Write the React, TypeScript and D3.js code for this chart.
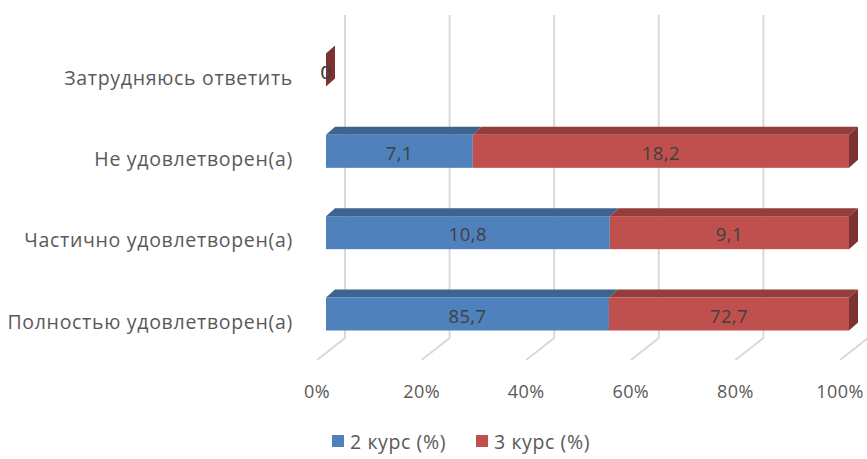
import React from "react";
import * as d3 from "d3";

// rows from top to bottom
const categories = [
  "Затрудняюсь ответить",
  "Не удовлетворен(а)",
  "Частично удовлетворен(а)",
  "Полностью удовлетворен(а)",
];
const course2 = [0, 7.1, 10.8, 85.7];
const course3 = [0, 18.2, 9.1, 72.7];
const seriesNames = ["2 курс (%)", "3 курс (%)"];
const tickValues = [0, 20, 40, 60, 80, 100];

const W = 867;
const H = 459;
const FONT = "'Open Sans', sans-serif";

const colors = [
  { front: "#4F81BD", top: "#3D6491", side: "#36577F" },
  { front: "#C0504D", top: "#943D3B", side: "#7D3231" },
];

const DX = 9; // bar depth, horizontal
const DY = 8; // bar depth, vertical
const BAR_H = 33;

const App = () => {
  const xFront = d3.scaleLinear().domain([0, 100]).range([326, 849]);
  const xBack = d3.scaleLinear().domain([0, 100]).range([345, 868]);
  const xFloor = d3.scaleLinear().domain([0, 100]).range([317, 840]);
  const yCenter = d3.scalePoint<string>().domain(categories).range([70, 314]);

  const wallTop = 15;
  const wallBottom = 338;
  const floorFront = 360;

  const rows = categories.map((c, i) => {
    const vals = [course2[i], course3[i]];
    const sum = d3.sum(vals);
    let acc = 0;
    const segs = vals.map((v, s) => {
      const p0 = sum ? (acc / sum) * 100 : 0;
      acc += v;
      const p1 = sum ? (acc / sum) * 100 : 0;
      return { v, s, p0, p1 };
    });
    return { c, segs };
  });

  const fmt = (v: number) => String(v).replace(".", ",");

  return (
    <svg
      width={W}
      height={H}
      style={{ position: "absolute", left: 0, top: 0, background: "#fff" }}
      fontFamily={FONT}
    >
      {/* back wall gridlines + floor */}
      <g stroke="#D9D9D9" strokeWidth={2} fill="none">
        {tickValues.map((t) => (
          <path
            key={t}
            d={`M${xBack(t)},${wallTop}V${wallBottom}L${xFloor(t)},${floorFront}`}
          />
        ))}
      </g>

      {/* bars */}
      {rows.map((r) => {
        const cy = yCenter(r.c) as number;
        const y0 = cy - BAR_H / 2;
        const y1 = cy + BAR_H / 2;
        const last = r.segs[r.segs.length - 1];
        const b = xFront(last.p1);
        return (
          <g key={r.c}>
            {r.segs.map((sg) => {
              const a = xFront(sg.p0);
              const e = xFront(sg.p1);
              if (e - a <= 0) return null;
              const col = colors[sg.s];
              return (
                <g key={sg.s}>
                  <path
                    d={`M${a},${y0}L${a + DX},${y0 - DY}L${e + DX},${y0 - DY}L${e},${y0}Z`}
                    fill={col.top}
                  />
                  <rect x={a} y={y0} width={e - a} height={BAR_H} fill={col.front} />
                </g>
              );
            })}
            <path
              d={`M${b},${y0}L${b + DX},${y0 - DY}L${b + DX},${y1 - DY}L${b},${y1}Z`}
              fill={colors[last.s].side}
            />
            {r.segs.map((sg) => (
              <text
                key={"l" + sg.s}
                x={(xFront(sg.p0) + xFront(sg.p1)) / 2}
                y={cy + 1}
                textAnchor="middle"
                dominantBaseline="central"
                fontSize={18.5}
                letterSpacing={0.4}
                fill="#404040"
              >
                {fmt(sg.v)}
              </text>
            ))}
            <text
              x={293}
              y={cy + 7}
              textAnchor="end"
              dominantBaseline="central"
              fontSize={19.5}
              letterSpacing={0.7}
              fill="#595959"
            >
              {r.c}
            </text>
          </g>
        );
      })}

      {/* value axis */}
      {tickValues.map((t) => (
        <text
          key={t}
          x={xFloor(t)}
          y={391}
          textAnchor="middle"
          dominantBaseline="central"
          fontSize={18}
          letterSpacing={0.4}
          fill="#595959"
        >
          {t}%
        </text>
      ))}

      {/* legend */}
      {seriesNames.map((n, i) => (
        <g key={n} transform={`translate(${332 + i * 144},435)`}>
          <rect width={12} height={12} fill={colors[i].front} />
          <text
            x={18}
            y={6}
            dominantBaseline="central"
            fontSize={19.5}
            letterSpacing={0.6}
            fill="#595959"
          >
            {n}
          </text>
        </g>
      ))}
    </svg>
  );
};

export default App;
